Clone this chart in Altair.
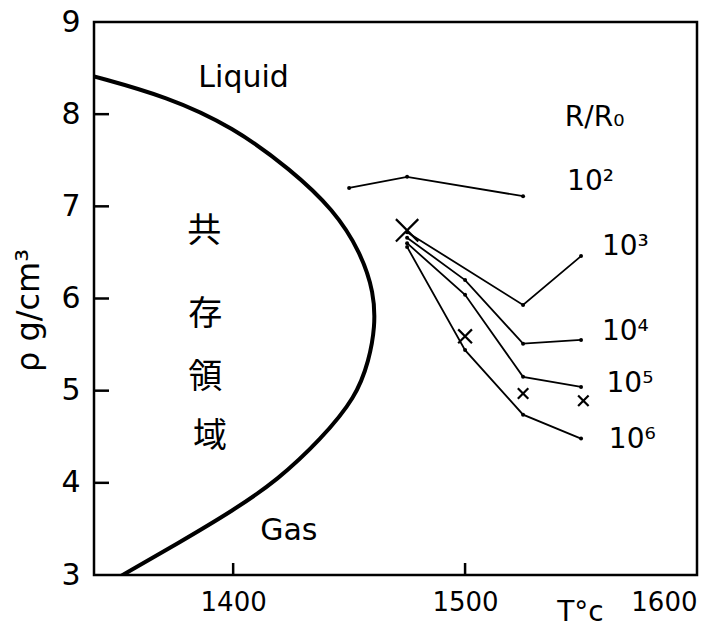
import altair as alt
import pandas as pd

# ---- data ----
# coexistence curve (thick line)
curve_T = [1340, 1371.6, 1400, 1424.8, 1443.5, 1455, 1460.8, 1461.2, 1458.6, 1453, 1437.8, 1419.2, 1400, 1375.9, 1351]
curve_rho = [8.41, 8.19, 7.86, 7.40, 6.96, 6.50, 6.06, 5.69, 5.33, 4.93, 4.47, 4.03, 3.70, 3.34, 2.98]

# R/R0 series
s_1e2_T = [1450, 1475, 1525]
s_1e2_rho = [7.20, 7.32, 7.11]
s_1e3_T = [1475, 1525, 1550]
s_1e3_rho = [6.72, 5.93, 6.46]
s_1e4_T = [1475, 1500, 1525, 1550]
s_1e4_rho = [6.66, 6.20, 5.51, 5.55]
s_1e5_T = [1475, 1500, 1525, 1550]
s_1e5_rho = [6.60, 6.04, 5.15, 5.04]
s_1e6_T = [1475, 1500, 1525, 1550]
s_1e6_rho = [6.56, 5.44, 4.74, 4.48]
series_names = ["10²", "10³", "10⁴", "10⁵", "10⁶"]

# cross markers
cross_big_T = [1475]
cross_big_rho = [6.74]
cross_mid_T = [1500]
cross_mid_rho = [5.59]
cross_small_T = [1525, 1551]
cross_small_rho = [4.97, 4.89]

# series labels
label_text = ["R/R₀", "10²", "10³", "10⁴", "10⁵", "10⁶"]
label_T = [1543, 1544, 1559, 1559, 1561, 1562]
label_rho = [7.96, 7.26, 6.56, 5.64, 5.07, 4.46]

# region labels
region_text = ["Liquid", "Gas"]
region_T = [1404.5, 1424]
region_rho = [8.39, 3.48]
cjk_text = ["共", "存", "領", "域"]
cjk_T = [1387.5, 1388, 1388, 1390]
cjk_rho = [6.72, 5.82, 5.14, 4.50]

# axis ticks
y_ticks = [4, 5, 6, 7, 8]
x_ticks = [1400, 1500]
x_labels = [1400, 1500, 1600]
y_labels = [3, 4, 5, 6, 7, 8, 9]

# ---- build tables ----
curve_df = pd.DataFrame({"T": curve_T, "rho": curve_rho, "i": list(range(len(curve_T)))})
rows = []
for name, ts, rs in zip(series_names,
                        [s_1e2_T, s_1e3_T, s_1e4_T, s_1e5_T, s_1e6_T],
                        [s_1e2_rho, s_1e3_rho, s_1e4_rho, s_1e5_rho, s_1e6_rho]):
    for t, r in zip(ts, rs):
        rows.append({"T": t, "rho": r, "s": name})
series_df = pd.DataFrame(rows)

FONT = "DejaVu Sans"
xs = alt.Scale(domain=[1340, 1600], nice=False, zero=False)
ys = alt.Scale(domain=[3, 9], nice=False, zero=False)

curve = alt.Chart(curve_df).mark_line(
    color="black", strokeWidth=4, interpolate="basis", clip=True
).encode(
    x=alt.X("T:Q", scale=xs, axis=alt.Axis(
        values=x_labels, ticks=False, domain=False, grid=False, labelFontSize=26,
        labelFont=FONT, labelColor="black", labelPadding=14, format="d",
        title="T°c", titleFont=FONT, titleFontSize=28, titleFontWeight="normal",
        titleColor="black", titleX=486, titleY=37, titleBaseline="middle", titleAlign="center")),
    y=alt.Y("rho:Q", scale=ys, axis=alt.Axis(
        values=y_labels, ticks=False, domain=False, grid=False, labelFontSize=30,
        labelFont=FONT, labelColor="black", labelPadding=14, format="d",
        title="ρ  g/cm³", titleFont=FONT, titleFontSize=32, titleFontWeight="normal",
        titleColor="black", titleAngle=270, titleX=-66, titleY=288,
        titleBaseline="middle", titleAlign="center")),
    order="i:Q",
)

series = alt.Chart(series_df).mark_line(
    color="black", strokeWidth=1.8,
    point=alt.OverlayMarkDef(filled=True, color="black", size=16)
).encode(x="T:Q", y="rho:Q", detail="s:N")

XPATH = "M-1,-1L1,1M-1,1L1,-1"
def crosses(ts, rs, size, sw):
    df = pd.DataFrame({"T": ts, "rho": rs})
    return alt.Chart(df).mark_point(
        shape=XPATH, filled=False, color="black", size=size, strokeWidth=sw, opacity=1
    ).encode(x="T:Q", y="rho:Q")

cr_big = crosses(cross_big_T, cross_big_rho, 500, 2.2)
cr_mid = crosses(cross_mid_T, cross_mid_rho, 190, 2.2)
cr_small = crosses(cross_small_T, cross_small_rho, 110, 2.2)

labels = alt.Chart(pd.DataFrame({"T": label_T, "rho": label_rho, "t": label_text})).mark_text(
    align="left", baseline="middle", fontSize=28, font=FONT, color="black"
).encode(x="T:Q", y="rho:Q", text="t:N")

regions = alt.Chart(pd.DataFrame({"T": region_T, "rho": region_rho, "t": region_text})).mark_text(
    align="center", baseline="middle", fontSize=30, font=FONT, color="black"
).encode(x="T:Q", y="rho:Q", text="t:N")

cjk = alt.Chart(pd.DataFrame({"T": cjk_T, "rho": cjk_rho, "t": cjk_text})).mark_text(
    align="center", baseline="middle", fontSize=34, font="Noto Sans CJK JP", color="black"
).encode(x="T:Q", y="rho:Q", text="t:N")

yt = alt.Chart(pd.DataFrame({"rho": y_ticks})).mark_tick(
    color="black", thickness=2.5, size=15, orient="horizontal", opacity=1
).encode(y="rho:Q", x=alt.value(7.5))
xt = alt.Chart(pd.DataFrame({"T": x_ticks})).mark_tick(
    color="black", thickness=2.5, size=12, orient="vertical", opacity=1
).encode(x="T:Q", y=alt.value(547))

chart = alt.layer(curve, series, cr_big, cr_mid, cr_small, labels, regions, cjk, yt, xt).properties(
    width=603, height=553,
    autosize=alt.AutoSizeParams(type="none"),
    padding={"left": 94, "top": 22, "right": 26, "bottom": 54},
    background="white",
).configure_view(stroke="black", strokeWidth=2.5)

chart.save("out.html", embed_options={"renderer": "svg", "actions": False})
